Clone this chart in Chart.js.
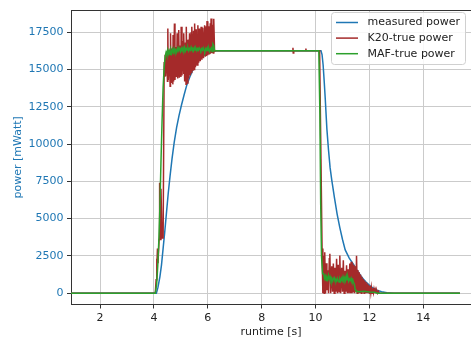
<!DOCTYPE html>
<html>
<head>
<meta charset="utf-8">
<title>power over runtime</title>
<script src="https://cdn.jsdelivr.net/npm/chart.js@4/dist/chart.umd.min.js"></script>
<style>
  html,body{margin:0;padding:0;background:#fff;}
  canvas{display:block;}
</style>
</head>
<body>
<canvas id="chartPower" width="471" height="343"></canvas>
<script>
/* power traces, [runtime s, power mWatt] */

const xTicks = [2, 4, 6, 8, 10, 12, 14];
const yTicks = [0, 2500, 5000, 7500, 10000, 12500, 15000, 17500];

const measuredPower = [
  [0.92,0],[4.09,0],[4.15,400],[4.22,1100],[4.28,1900],[4.34,3000],[4.40,4100],
  [4.47,5500],[4.53,6700],[4.60,7900],[4.67,9000],[4.75,10100],[4.84,11100],
  [4.93,11900],[5.02,12600],[5.12,13300],[5.21,13900],[5.33,14500],[5.45,15000],
  [5.58,15400],[5.70,15700],[5.85,15950],[6.00,16100],[6.15,16200],[6.30,16250],
  [10.20,16250],[10.24,16000],[10.28,15300],[10.32,14200],[10.36,13000],[10.42,11000],
  [10.48,9600],[10.54,8400],[10.60,7600],[10.70,6400],[10.80,5300],[10.90,4400],
  [11.00,3600],[11.10,2900],[11.25,2350],[11.40,1950],[11.55,1500],[11.70,1100],
  [11.85,780],[12.00,520],[12.15,330],[12.30,190],[12.45,90],[12.65,30],[12.90,0],
  [15.36,0]
];

const k20Power = [
  [0.92,0],[4.05,0],[4.08,900],[4.10,2300],[4.11,1700],[4.13,3000],[4.15,2000],
  [4.19,3600],[4.21,7400],[4.23,3600],[4.26,7000],[4.30,3700],[4.34,3700],
  [4.38,15500],[4.40,14500],[4.415,15980],[4.43,14550],[4.47,16200],[4.50,14210],
  [4.515,17750],[4.53,14300],[4.57,16300],[4.60,13880],[4.615,17420],[4.64,14100],
  [4.68,16400],[4.70,14000],[4.71,17310],[4.73,14200],[4.76,18080],[4.78,14300],
  [4.82,16500],[4.84,14500],[4.86,17420],[4.88,14400],[4.92,17640],[4.94,14440],
  [4.98,16600],[5.00,14500],[5.01,17860],[5.04,14600],[5.08,16900],[5.10,14700],
  [5.11,17420],[5.14,14200],[5.17,16800],[5.19,14000],[5.20,17860],[5.23,14100],
  [5.26,17000],[5.29,14400],[5.32,17420],[5.35,14600],[5.38,17500],[5.40,14750],
  [5.41,17860],[5.44,14900],[5.47,17600],[5.49,15000],[5.51,18080],[5.54,15150],
  [5.57,17700],[5.60,15300],[5.63,17970],[5.66,15450],[5.69,17750],[5.72,15550],
  [5.75,17860],[5.78,15650],[5.81,17800],[5.84,15750],[5.88,17970],[5.91,15850],
  [5.94,17900],[5.95,15900],[5.97,18240],[6.00,15950],[6.03,17900],[6.06,16000],
  [6.09,18100],[6.10,16050],[6.12,18420],[6.15,16100],[6.18,18000],[6.20,16100],
  [6.22,18400],[6.25,16200],[6.28,16250],
  [9.15,16250],[9.16,16450],[9.17,16100],[9.19,16250],[9.63,16250],[9.64,16400],
  [9.65,16250],
  [10.15,16250],[10.20,9000],[10.24,3000],[10.27,0],[10.30,2500],[10.32,0],
  [10.34,2750],[10.37,0],[10.40,2000],[10.42,200],[10.45,1540],[10.48,0],
  [10.51,2300],[10.53,2640],[10.56,0],[10.60,1800],[10.63,100],[10.66,1980],
  [10.69,0],[10.72,1700],[10.75,100],[10.78,2310],[10.81,0],[10.84,1900],
  [10.87,100],[10.90,2530],[10.93,0],[10.97,1700],[11.00,100],[11.03,2200],
  [11.06,0],[11.09,1500],[11.12,100],[11.15,1870],[11.18,0],[11.21,1600],
  [11.24,0],[11.27,1980],[11.30,0],[11.32,2100],[11.35,0],[11.37,2000],
  [11.40,100],[11.42,1900],[11.45,0],[11.47,1800],[11.50,100],[11.52,2500],
  [11.55,0],[11.57,1550],[11.60,0],[11.62,1400],[11.65,50],[11.67,1250],
  [11.70,0],[11.72,1100],[11.75,50],[11.77,950],[11.80,0],[11.82,850],
  [11.85,50],[11.87,750],[11.90,0],[11.92,650],[11.95,50],[11.97,560],
  [12.00,0],[12.02,480],[12.05,30],[12.07,400],[12.10,0],[12.12,330],
  [12.15,30],[12.17,270],[12.20,0],[12.22,220],[12.25,20],[12.27,170],
  [12.30,0],[12.33,120],[12.36,0],[15.36,0]
];

const mafPower = [
  [0.92,0],[4.05,0],[4.10,600],[4.14,1800],[4.18,3500],[4.22,5800],[4.26,8800],
  [4.30,11500],[4.34,13800],[4.38,15200],[4.42,15900],[4.45,16150],[4.48,15950],
  [4.51,16300],[4.54,16050],[4.57,16250],[4.60,16000],[4.63,16300],[4.66,16100],
  [4.69,16350],[4.72,16150],[4.75,16400],[4.78,16200],[4.81,16300],[4.84,16150],
  [4.87,16400],[4.90,16250],[4.93,16450],[4.96,16300],[4.99,16200],[5.02,16400],
  [5.05,16250],[5.08,16450],[5.11,16300],[5.14,16500],[5.17,16250],[5.20,16400],
  [5.23,16300],[5.26,16450],[5.29,16250],[5.32,16400],[5.35,16300],[5.38,16500],
  [5.41,16350],[5.44,16400],[5.47,16250],[5.50,16450],[5.53,16300],[5.56,16400],
  [5.59,16250],[5.62,16400],[5.65,16300],[5.68,16450],[5.71,16350],[5.74,16250],
  [5.77,16400],[5.80,16300],[5.83,16450],[5.86,16300],[5.89,16200],[5.92,16400],
  [5.95,16300],[5.98,16450],[6.01,16250],[6.04,16400],[6.07,16200],[6.10,16350],
  [6.13,16450],[6.16,16200],[6.19,16700],[6.22,16600],[6.25,16250],
  [10.12,16250],[10.16,12000],[10.19,6000],[10.22,2500],[10.26,1300],
  [10.30,1300],[10.33,1000],[10.36,1150],[10.39,850],[10.42,1050],[10.45,900],
  [10.48,1200],[10.51,950],[10.54,1100],[10.57,850],[10.60,1000],[10.63,800],
  [10.66,950],[10.69,1050],[10.72,850],[10.75,900],[10.78,800],[10.81,1000],
  [10.84,850],[10.87,750],[10.90,950],[10.93,800],[10.96,1000],[10.99,850],
  [11.02,1100],[11.05,900],[11.08,1050],[11.11,850],[11.14,1150],[11.17,900],
  [11.20,1050],[11.23,800],[11.26,950],[11.29,850],[11.32,1000],[11.35,800],
  [11.38,900],[11.41,700],[11.44,600],[11.47,250],[11.50,150],[11.60,100],
  [11.80,120],[12.00,80],[12.20,60],[12.30,0],[15.36,0]
];

const COLORS = {
  measured:'#1f77b4', k20:'#a52a2a', maf:'#2ca02c',
  grid:'#cbcbcb', spine:'#333333', text:'#222222', axisBlue:'#1f77b4'
};
const FONT = 'DejaVu Sans';

const toXY = arr => arr.map(([x, y]) => ({x, y}));

// top spine + matplotlib-like legend box in the upper right
const frameAndLegend = {
  id:'frameAndLegend',
  afterDraw(chart){
    const {ctx, chartArea:a} = chart;
    ctx.save();
    ctx.strokeStyle = COLORS.spine;
    ctx.lineWidth = 1;
    ctx.beginPath();
    ctx.moveTo(a.left, Math.round(a.top) + 0.5);
    ctx.lineTo(a.right, Math.round(a.top) + 0.5);
    ctx.stroke();

    const bx = 331.5, by = 12.5, bw = 134, bh = 52, r = 3;
    ctx.beginPath();
    ctx.moveTo(bx + r, by);
    ctx.arcTo(bx + bw, by, bx + bw, by + bh, r);
    ctx.arcTo(bx + bw, by + bh, bx, by + bh, r);
    ctx.arcTo(bx, by + bh, bx, by, r);
    ctx.arcTo(bx, by, bx + bw, by, r);
    ctx.closePath();
    ctx.fillStyle = 'rgba(255,255,255,0.85)';
    ctx.fill();
    ctx.strokeStyle = '#d0d0d0';
    ctx.stroke();

    ctx.font = '11px "' + FONT + '"';
    ctx.textBaseline = 'middle';
    ctx.fillStyle = COLORS.text;
    chart.data.datasets.forEach((ds, i) => {
      const y = 22.5 + i * 15.6;
      ctx.strokeStyle = ds.borderColor;
      ctx.lineWidth = 1.5;
      ctx.beginPath();
      ctx.moveTo(336, y);
      ctx.lineTo(358, y);
      ctx.stroke();
      ctx.fillText(ds.label, 367.5, y);
    });
    ctx.restore();
  }
};

function lineSet(label, data, color, order){
  return {
    label, data: toXY(data), borderColor: color, backgroundColor: color,
    borderWidth: 1.5, pointRadius: 0, tension: 0, fill: false, order
  };
}

new Chart(document.getElementById('chartPower'), {
  type:'line',
  data:{
    datasets:[
      lineSet('measured power', measuredPower, COLORS.measured, 3),
      lineSet('K20-true power', k20Power, COLORS.k20, 2),
      lineSet('MAF-true power', mafPower, COLORS.maf, 1)
    ]
  },
  options:{
    responsive:false, animation:false, devicePixelRatio:1,
    layout:{ padding:{ top:7, right:0, left:0, bottom:0 } },
    plugins:{ legend:{ display:false }, tooltip:{ enabled:false } },
    scales:{
      x:{
        type:'linear', min:0.92, max:15.77,
        afterBuildTicks: s => { s.ticks = xTicks.map(v => ({value:v})); },
        afterFit: s => { s.height = 38.5; },
        grid:{ color: COLORS.grid, tickColor: COLORS.spine, tickLength:4 },
        border:{ color: COLORS.spine, width:1 },
        ticks:{ color: COLORS.text, font:{ family: FONT, size:11 }, padding:3, maxRotation:0,
                callback: v => String(v) },
        title:{ display:true, text:'runtime [s]', color: COLORS.text,
                font:{ family: FONT, size:11 }, padding:{ top:0, bottom:4.4 } }
      },
      y:{
        type:'linear', min:-760, max:18980,
        afterBuildTicks: s => { s.ticks = yTicks.map(v => ({value:v})); },
        afterFit: s => { s.width = 71; },
        grid:{ color: COLORS.grid, tickColor: COLORS.spine, tickLength:4 },
        border:{ color: COLORS.spine, width:1 },
        ticks:{ color: COLORS.axisBlue, font:{ family: FONT, size:11 }, padding:3.5,
                callback: v => String(v) },
        title:{ display:true, text:'power [mWatt]', color: COLORS.axisBlue,
                font:{ family: FONT, size:11 }, padding:{ top:11.4, bottom:0 } }
      }
    }
  },
  plugins:[frameAndLegend]
});
</script>
</body>
</html>
